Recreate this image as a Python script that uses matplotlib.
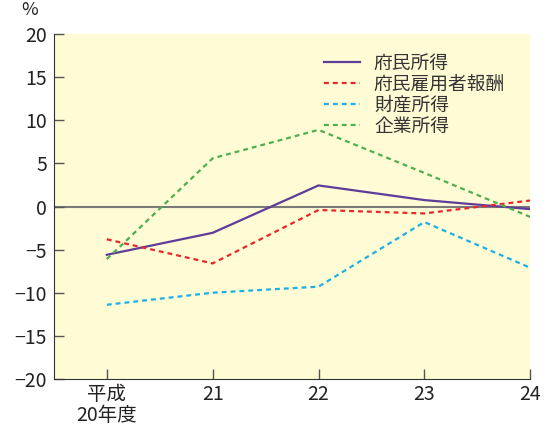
import matplotlib
matplotlib.use("Agg")
import matplotlib.pyplot as plt

plt.rcParams['font.family'] = ['Noto Sans CJK JP', 'DejaVu Sans']

categories = ["平成\n20年度", "21", "22", "23", "24"]
fumin_shotoku = [-5.6, -3.05, 2.45, 0.75, -0.3]
koyousha_houshu = [-3.8, -6.6, -0.4, -0.8, 0.7]
zaisan_shotoku = [-11.4, -10.0, -9.3, -1.8, -7.1]
kigyou_shotoku = [-6.1, 5.6, 8.9, 3.9, -1.2]
y_ticks = [-20, -15, -10, -5, 0, 5, 10, 15, 20]

fig = plt.figure(figsize=(5.5, 4.33), dpi=100)
ax = fig.add_axes([0.098, 0.125, 0.866, 0.796])
ax.set_facecolor('#FFFBD5')

x = list(range(len(categories)))
ax.axhline(0, color='#7a7a7a', lw=1.5, zorder=1)
ax.plot(x, fumin_shotoku, color='#5E3C99', lw=1.6, label='府民所得', zorder=3)
ax.plot(x, koyousha_houshu, color='#E8262C', lw=1.6, ls=(0, (2.2, 1.8)), label='府民雇用者報酬', zorder=3)
ax.plot(x, zaisan_shotoku, color='#1BB0E6', lw=1.6, ls=(0, (2.2, 1.8)), label='財産所得', zorder=3)
ax.plot(x, kigyou_shotoku, color='#4CAF50', lw=1.6, ls=(0, (2.2, 1.8)), label='企業所得', zorder=3)

ax.set_xlim(-0.5, 4)
ax.set_ylim(-20, 20)
ax.set_yticks(y_ticks)
ax.set_yticklabels([str(v).replace('-', '−') for v in y_ticks])
ax.set_xticks(x)
ax.set_xticklabels(categories, linespacing=0.95)

ax.spines['top'].set_visible(False)
ax.spines['right'].set_visible(False)
ax.spines['left'].set_color('#333333')
ax.spines['bottom'].set_color('#333333')
ax.tick_params(axis='both', direction='in', length=7, width=1, color='#555555',
               labelsize=14, labelcolor='#222222')
ax.tick_params(axis='y', pad=5)
ax.tick_params(axis='x', pad=4)

ax.text(-0.05, 1.045, '%', transform=ax.transAxes, fontsize=13, ha='center', va='bottom', color='#222222')

leg = ax.legend(loc='upper right', bbox_to_anchor=(0.975, 0.985), frameon=False, fontsize=13.5,
                handlelength=1.9, handletextpad=0.75, labelspacing=0.0, borderaxespad=0.3)
for t in leg.get_texts():
    t.set_color('#333333')

fig.savefig('out.png', dpi=100, facecolor='white')
